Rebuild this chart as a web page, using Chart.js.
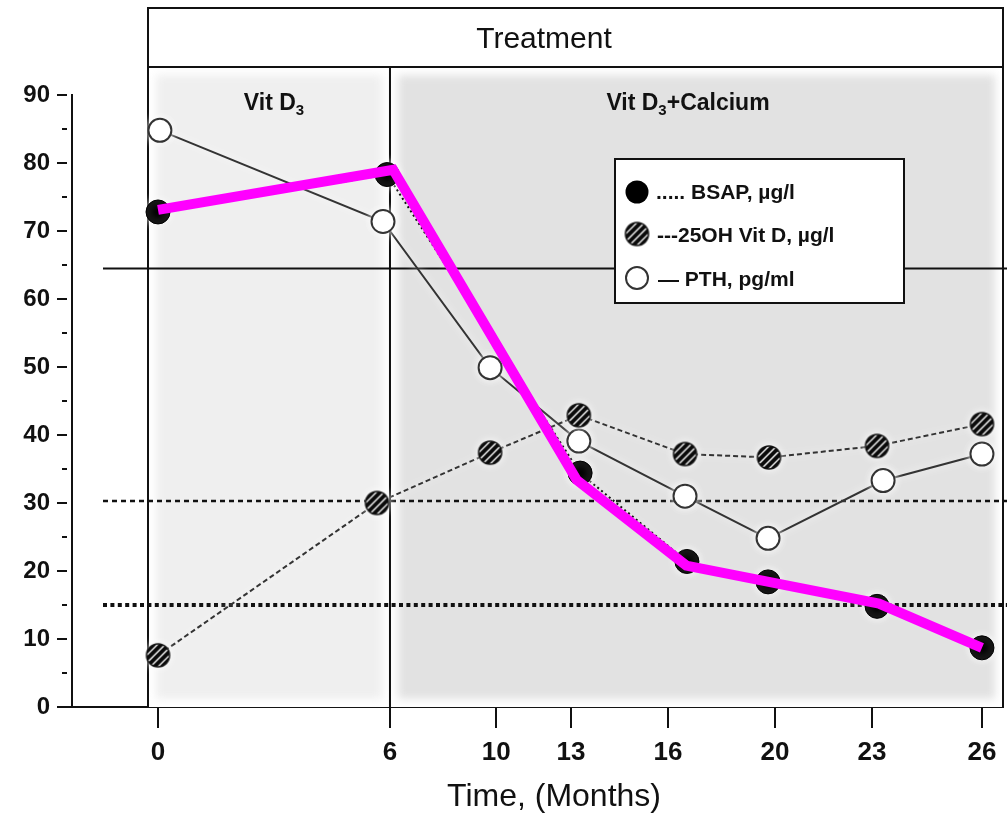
<!DOCTYPE html>
<html>
<head>
<meta charset="utf-8">
<script src="https://cdn.jsdelivr.net/npm/chart.js@4/dist/chart.umd.min.js"></script>
<style>
  html, body { margin: 0; padding: 0; background: #fff; }
  #wrap { width: 1007px; height: 814px; }
</style>
</head>
<body>
<div id="wrap"><canvas id="c" width="1007" height="814"></canvas></div>
<script>
// Visit labels on the time axis and where each sits on the scale
const months = ['0', '6', '10', '13', '16', '20', '23', '26'];
const tickAt = [0, 7.32, 10.67, 13.03, 16.09, 19.47, 22.53, 26];

// BSAP, µg/l
const bsapX = [0, 7.23, 13.32, 16.69, 19.25, 22.69, 26];
const bsap  = [72.8, 78.3, 34.4, 21.4, 18.4, 14.8, 8.7];
// 25OH Vit D, µg/l
const vitdX = [0, 6.91, 10.48, 13.28, 16.63, 19.28, 22.69, 26];
const vitd  = [7.6, 30.0, 37.4, 42.9, 37.2, 36.7, 38.4, 41.6];
// PTH, pg/ml
const pthX = [0.06, 7.10, 10.48, 13.28, 16.63, 19.25, 22.88, 26];
const pth  = [84.8, 71.4, 49.9, 39.1, 31.0, 24.8, 33.3, 37.2];
// highlighted BSAP trend
const trendX = [0, 7.42, 13.21, 16.67, 22.75, 26];
const trend  = [73.1, 79.0, 33.4, 20.8, 15.2, 8.7];

// reference levels
const pthLimit = 64.5;
const vitdLimit = 30.3;
const bsapLimit = 15;

const yTicks = [0, 10, 20, 30, 40, 50, 60, 70, 80, 90];

const FONT = "'Liberation Sans', Arial, sans-serif";
Chart.defaults.font.family = FONT;

const pts = (xs, ys) => xs.map((x, i) => ({ x: x, y: ys[i] }));

// striped marker for 25OH Vit D
function hatchMarker(r) {
  const s = Math.ceil(2 * r + 4);
  const c = document.createElement('canvas');
  c.width = s; c.height = s;
  const g = c.getContext('2d');
  const cx = s / 2, cy = s / 2;
  g.save();
  g.beginPath(); g.arc(cx, cy, r, 0, Math.PI * 2); g.closePath();
  g.fillStyle = '#fff'; g.fill();
  g.clip();
  g.strokeStyle = '#0a0a0a'; g.lineWidth = 4;
  for (let k = -3; k <= 3; k++) {
    const o = k * 7.6;
    g.beginPath();
    g.moveTo(cx - s + o, cy + s);
    g.lineTo(cx + s + o, cy - s);
    g.stroke();
  }
  g.restore();
  g.beginPath(); g.arc(cx, cy, r, 0, Math.PI * 2);
  g.strokeStyle = '#111'; g.lineWidth = 1.5; g.stroke();
  return c;
}
const hatch = hatchMarker(11.5);

// panel, header, treatment phases and reference levels behind the data
const panelPlugin = {
  id: 'panel',
  beforeDatasetsDraw(chart) {
    const { ctx, chartArea: ca, scales: { x, y } } = chart;
    const L = x.getPixelForValue(0) - 10;
    const R = ca.right;
    const T = 8;
    const H = y.getPixelForValue(94.1);
    const B = y.getPixelForValue(0);
    const S = x.getPixelForValue(tickAt[1]);

    ctx.save();
    // header
    ctx.fillStyle = '#fff';
    ctx.fillRect(L, T, R - L, H - T);
    // phase backgrounds with soft white edges
    ctx.fillStyle = '#fff';
    ctx.fillRect(L, H, R - L, B - H);
    ctx.filter = 'blur(4px)';
    ctx.fillStyle = '#efefef';
    ctx.fillRect(L + 8, H + 8, S - L - 16, B - H - 16);
    ctx.fillStyle = '#e2e2e2';
    ctx.fillRect(S + 8, H + 8, R - S - 16, B - H - 16);
    ctx.filter = 'none';

    // frame
    ctx.strokeStyle = '#111';
    ctx.lineWidth = 2;
    ctx.beginPath();
    ctx.moveTo(L, B); ctx.lineTo(L, T); ctx.lineTo(R, T); ctx.lineTo(R, B);
    ctx.moveTo(L, H); ctx.lineTo(R, H);
    ctx.moveTo(S, H); ctx.lineTo(S, B);
    ctx.stroke();

    // header and phase labels
    ctx.fillStyle = '#111';
    ctx.textBaseline = 'alphabetic';
    ctx.textAlign = 'center';
    ctx.font = '30px ' + FONT;
    ctx.fillText('Treatment', L + 396, T + 40);

    const subLabel = (cxp, base, tail) => {
      ctx.font = 'bold 23px ' + FONT;
      const w1 = ctx.measureText('Vit D').width;
      ctx.font = 'bold 15px ' + FONT;
      const w2 = ctx.measureText('3').width;
      ctx.font = 'bold 23px ' + FONT;
      const w3 = tail ? ctx.measureText(tail).width : 0;
      let sx = cxp - (w1 + w2 + w3) / 2;
      ctx.textAlign = 'left';
      ctx.fillText('Vit D', sx, base);
      ctx.font = 'bold 15px ' + FONT;
      ctx.fillText('3', sx + w1, base + 5);
      if (tail) {
        ctx.font = 'bold 23px ' + FONT;
        ctx.fillText(tail, sx + w1 + w2, base);
      }
    };
    subLabel(274, 110, '');
    subLabel(688, 110, '+Calcium');

    // reference levels
    const x0 = 103, x1 = chart.width;
    const hline = (v, w, dash) => {
      const py = y.getPixelForValue(v);
      ctx.beginPath();
      ctx.setLineDash(dash);
      ctx.lineWidth = w;
      ctx.moveTo(x0, py); ctx.lineTo(x1, py);
      ctx.stroke();
    };
    ctx.strokeStyle = '#111';
    hline(pthLimit, 2, []);
    hline(vitdLimit, 2.5, [5, 4]);
    hline(bsapLimit, 4, [4, 3.4]);
    ctx.setLineDash([]);
    ctx.restore();
  }
};

// white glow round the measured series
const glowPlugin = {
  id: 'glow',
  beforeDatasetDraw(chart, args) {
    if (args.index === 3) return;
    chart.ctx.save();
    chart.ctx.shadowColor = 'rgba(255,255,255,0.95)';
    chart.ctx.shadowBlur = 9;
  },
  afterDatasetDraw(chart, args) {
    if (args.index === 3) return;
    chart.ctx.restore();
  }
};

// axes decorations, key and axis title
const overlayPlugin = {
  id: 'overlay',
  afterDraw(chart) {
    const { ctx, chartArea: ca, scales: { x, y } } = chart;
    const B = y.getPixelForValue(0);
    ctx.save();
    ctx.strokeStyle = '#111';
    ctx.lineWidth = 2;
    // y axis line and ticks
    const ax = ca.left;
    ctx.beginPath();
    ctx.moveTo(ax, y.getPixelForValue(90) - 1);
    ctx.lineTo(ax, B);
    ctx.stroke();
    for (let v = 0; v <= 90; v += 5) {
      const py = y.getPixelForValue(v);
      ctx.beginPath();
      if (v % 10 === 0) { ctx.moveTo(57, py); ctx.lineTo(67, py); }
      else { ctx.moveTo(62, py); ctx.lineTo(67, py); }
      ctx.stroke();
    }
    // x axis line extension
    ctx.beginPath();
    ctx.moveTo(57, B); ctx.lineTo(ca.left, B);
    ctx.stroke();

    // axis title
    ctx.fillStyle = '#111';
    ctx.font = '32px ' + FONT;
    ctx.textAlign = 'center';
    ctx.textBaseline = 'alphabetic';
    ctx.fillText('Time, (Months)', 554, 806);

    // key
    const kx = 615, ky = 159, kw = 289, kh = 144;
    ctx.fillStyle = '#fff';
    ctx.fillRect(kx, ky, kw, kh);
    ctx.strokeStyle = '#111';
    ctx.lineWidth = 2;
    ctx.strokeRect(kx, ky, kw, kh);

    const mx = 637;
    // BSAP
    ctx.beginPath(); ctx.arc(mx, 192, 11.5, 0, Math.PI * 2);
    ctx.fillStyle = '#000'; ctx.fill();
    // 25OH Vit D
    ctx.drawImage(hatch, mx - hatch.width / 2, 234 - hatch.height / 2);
    // PTH
    ctx.beginPath(); ctx.arc(mx, 278, 11, 0, Math.PI * 2);
    ctx.fillStyle = '#fff'; ctx.fill();
    ctx.strokeStyle = '#333'; ctx.lineWidth = 2; ctx.stroke();

    ctx.fillStyle = '#111';
    ctx.textAlign = 'left';
    ctx.textBaseline = 'middle';
    ctx.font = 'bold 21px ' + FONT;
    ctx.fillText('..... BSAP, µg/l', 656, 193);
    ctx.fillText('---25OH Vit D, µg/l', 657, 236);
    ctx.fillText('— PTH, pg/ml', 658, 280);
    ctx.restore();
  }
};

new Chart(document.getElementById('c'), {
  type: 'line',
  data: {
    datasets: [
      {
        label: 'BSAP, µg/l',
        data: pts(bsapX, bsap),
        borderColor: '#111',
        borderWidth: 2,
        borderDash: [2, 3],
        pointRadius: 12,
        pointBackgroundColor: '#000',
        pointBorderColor: '#000',
        pointBorderWidth: 1,
        order: 1
      },
      {
        label: '25OH Vit D, µg/l',
        data: pts(vitdX, vitd),
        borderColor: '#333',
        borderWidth: 2,
        borderDash: [5, 3],
        pointStyle: hatch,
        pointRadius: 11.5,
        order: 2
      },
      {
        label: 'PTH, pg/ml',
        data: pts(pthX, pth),
        borderColor: '#333',
        borderWidth: 2,
        pointRadius: 11.5,
        pointBackgroundColor: '#fff',
        pointBorderColor: '#333',
        pointBorderWidth: 2,
        order: 3
      },
      {
        label: 'BSAP trend',
        data: pts(trendX, trend),
        borderColor: '#ff00ff',
        borderWidth: 10,
        borderJoinStyle: 'miter',
        pointRadius: 0,
        order: 0
      }
    ]
  },
  options: {
    responsive: false,
    animation: false,
    devicePixelRatio: 1,
    layout: { autoPadding: false, padding: { top: 95, right: 4, left: 0, bottom: 0 } },
    plugins: { legend: { display: false }, tooltip: { enabled: false } },
    elements: { line: { tension: 0 } },
    scales: {
      x: {
        type: 'linear',
        min: -2.714,
        max: 26.664,
        afterBuildTicks: (s) => { s.ticks = tickAt.map(v => ({ value: v })); },
        afterFit: (s) => { s.height = 107; s.paddingLeft = 0; s.paddingRight = 0; },
        grid: { drawOnChartArea: false, drawTicks: true, tickLength: 21, color: '#111', lineWidth: 2 },
        border: { display: true, color: '#111', width: 2 },
        ticks: {
          autoSkip: false,
          maxRotation: 0,
          padding: 9,
          color: '#111',
          font: { size: 26, weight: 'bold' },
          callback: (v, i) => months[i]
        }
      },
      y: {
        type: 'linear',
        min: 0,
        max: 90,
        afterBuildTicks: (s) => { s.ticks = yTicks.map(v => ({ value: v })); },
        afterFit: (s) => { s.width = 72; s.paddingTop = 0; s.paddingBottom = 0; },
        grid: { display: false, drawTicks: false },
        border: { display: false },
        ticks: {
          padding: 22,
          color: '#111',
          font: { size: 24, weight: 'bold' }
        }
      }
    }
  },
  plugins: [panelPlugin, glowPlugin, overlayPlugin]
});
</script>
</body>
</html>
